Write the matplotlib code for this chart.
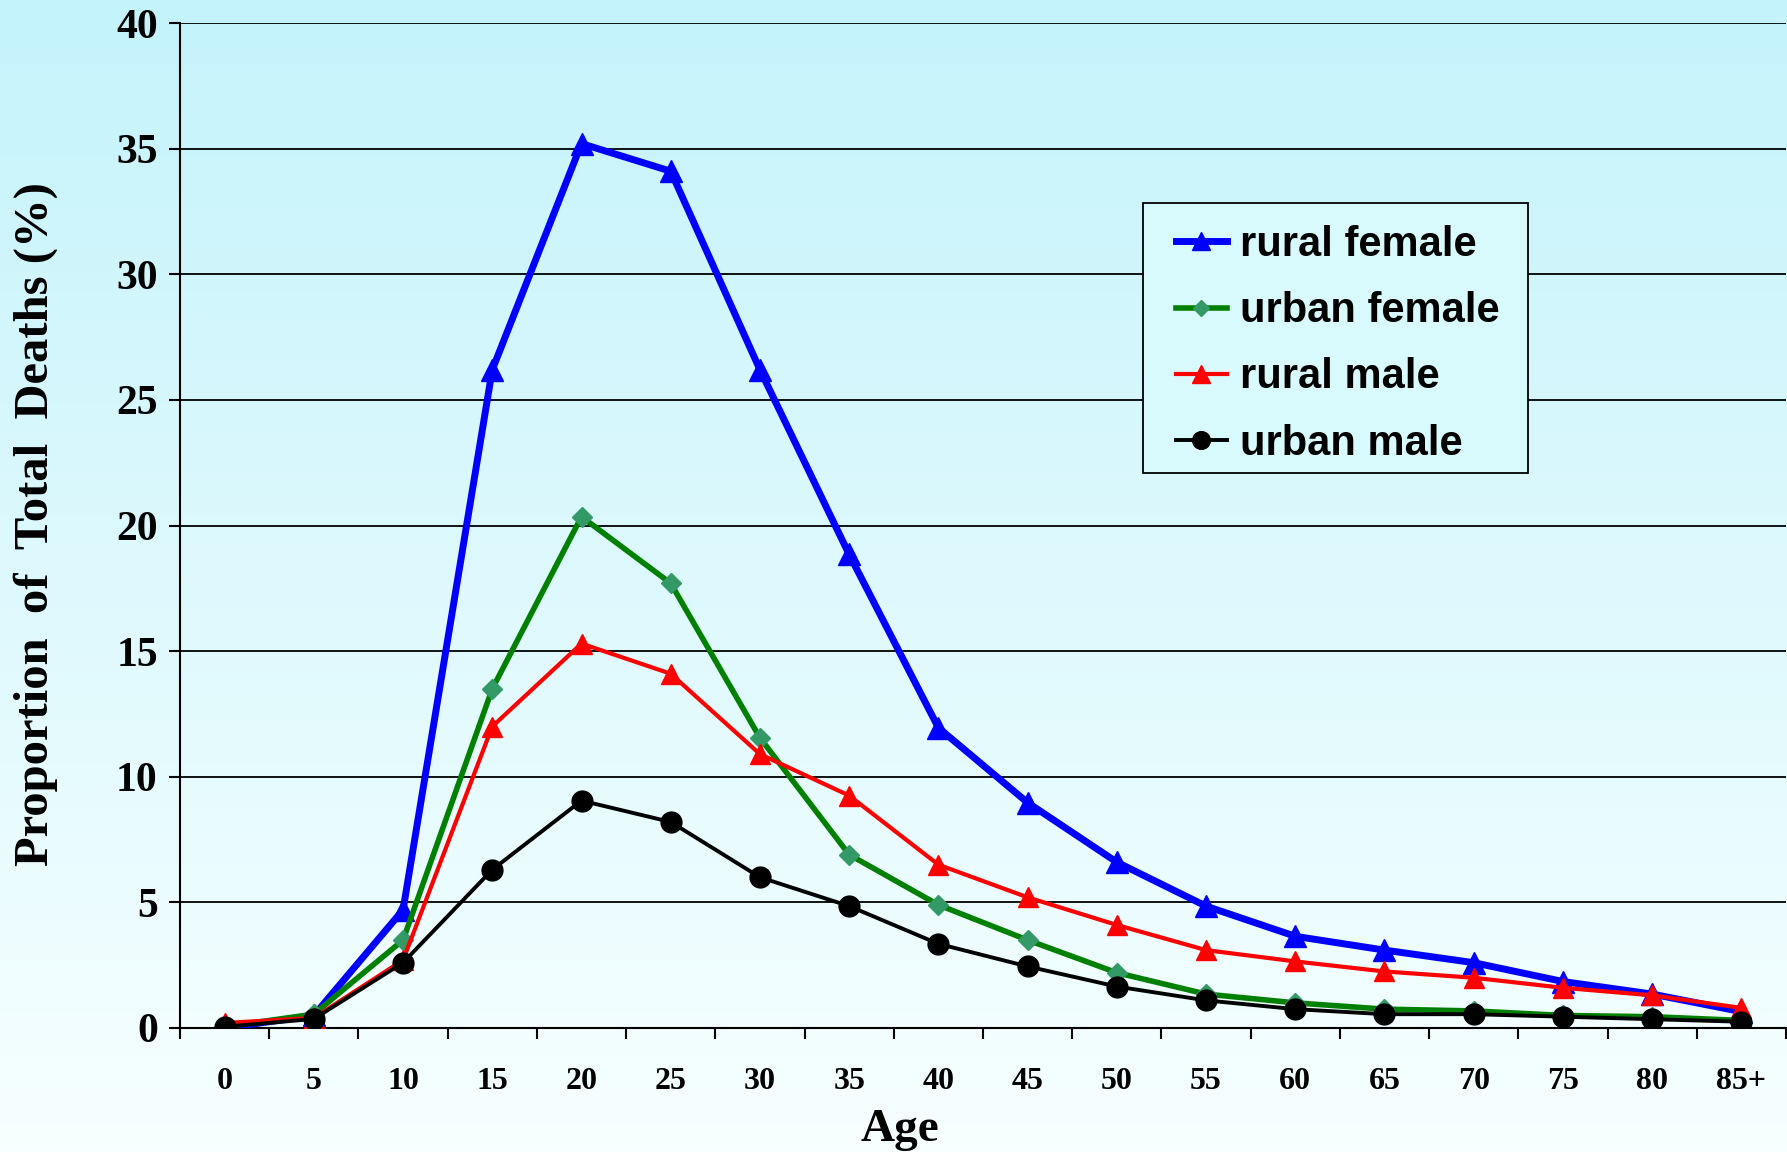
import matplotlib.pyplot as plt
import numpy as np
from matplotlib.patches import Rectangle

# 数据
ages = ["0", "5", "10", "15", "20", "25", "30", "35", "40", "45",
        "50", "55", "60", "65", "70", "75", "80", "85+"]
rural_female = [0.0, 0.5, 4.7, 26.2, 35.2, 34.1, 26.2, 18.85, 11.95, 8.97,
                6.6, 4.85, 3.65, 3.1, 2.6, 1.85, 1.35, 0.65]
urban_female = [0.05, 0.55, 3.5, 13.5, 20.35, 17.7, 11.55, 6.9, 4.9, 3.5,
                2.2, 1.35, 1.0, 0.75, 0.68, 0.5, 0.45, 0.3]
rural_male = [0.2, 0.4, 2.7, 12.0, 15.3, 14.1, 10.9, 9.25, 6.5, 5.2,
              4.1, 3.1, 2.65, 2.25, 2.0, 1.6, 1.3, 0.8]
urban_male = [0.05, 0.36, 2.6, 6.3, 9.05, 8.2, 6.0, 4.85, 3.35, 2.45,
              1.65, 1.1, 0.75, 0.55, 0.55, 0.45, 0.35, 0.25]

W, H = 1787, 1152
fig = plt.figure(figsize=(W / 100, H / 100), dpi=100)

# 背景渐变
bg = fig.add_axes([0, 0, 1, 1], zorder=-10)
top = np.array([196, 243, 251]) / 255
bottom = np.array([247, 255, 255]) / 255
t = np.linspace(0, 1, 256)[:, None]
grad = top * (1 - t) + bottom * t
bg.imshow(grad[:, None, :], aspect="auto", extent=[0, 1, 0, 1])
bg.axis("off")

ax = fig.add_axes([180 / W, 1 - 1028 / H, 1606 / W, 1005 / H])
ax.set_facecolor("none")

x = np.arange(len(ages))
ax.plot(x, rural_female, color="#0000ff", lw=5, marker="^", ms=16,
        label="rural female", zorder=3)
ax.plot(x, urban_female, color="#008000", lw=4, marker="D", ms=10,
        mfc="#339966", mec="#339966", label="urban female", zorder=4)
ax.plot(x, rural_male, color="#ff0000", lw=3, marker="^", ms=15,
        label="rural male", zorder=5)
ax.plot(x, urban_male, color="black", lw=2.8, marker="o", ms=15,
        label="urban male", zorder=6)

ax.set_xlim(-0.5, len(ages) - 0.5)
ax.set_ylim(0, 40)
ax.set_yticks(range(0, 41, 5))
ax.yaxis.grid(True, color="black", lw=1.3)
ax.set_axisbelow(True)

for s in ["top", "right"]:
    ax.spines[s].set_visible(False)
ax.spines["left"].set_linewidth(1.5)
ax.spines["bottom"].set_linewidth(1.5)

ax.set_xticks(x)
ax.set_xticklabels(ages)
ax.set_xticks(np.arange(-0.5, len(ages), 1), minor=True)
ax.tick_params(axis="x", which="major", length=0, pad=28)
ax.tick_params(axis="x", which="minor", length=8, width=1.5, direction="out")
ax.tick_params(axis="y", length=8, width=1.5, pad=8)

for lab in ax.get_xticklabels():
    lab.set_fontfamily("Liberation Serif")
    lab.set_fontweight("bold")
    lab.set_fontsize(23)
for lab in ax.get_yticklabels():
    lab.set_fontfamily("Liberation Serif")
    lab.set_fontweight("bold")
    lab.set_fontsize(30)

fig.text(900 / W, 1 - 1130 / H, "Age", ha="center", va="center",
         fontfamily="Liberation Serif", fontweight="bold", fontsize=34)
fig.text(36 / W, 1 - 524 / H, "Proportion  of  Total  Deaths (%)",
         ha="center", va="center", rotation=90,
         fontfamily="Liberation Serif", fontweight="bold", fontsize=35)

# 图例框
box = Rectangle((1143 / W, 1 - 473 / H), (1528 - 1143) / W, (473 - 203) / H,
                transform=fig.transFigure, facecolor="#d9fafc",
                edgecolor="black", lw=1.3, zorder=8)
fig.patches.append(box)

leg = fig.legend(loc="upper left", bbox_to_anchor=(1176 / W, 1 - 225 / H),
                 prop={"family": "Liberation Sans", "weight": "bold", "size": 30},
                 frameon=False, handlelength=1.22, handletextpad=0.31,
                 borderpad=0, labelspacing=0.63, borderaxespad=0)
leg.set_zorder(9)
for h in leg.legend_handles:
    h.set_markersize(h.get_markersize() * 0.85)

plt.savefig("out.png", dpi=100)
